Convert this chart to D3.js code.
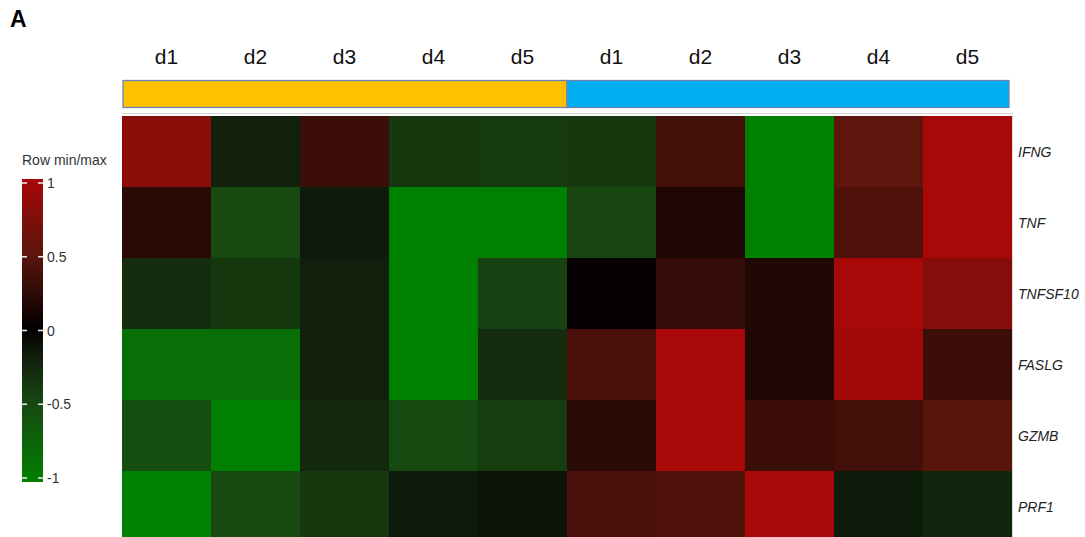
<!DOCTYPE html>
<html>
<head>
<meta charset="utf-8">
<script src="https://cdn.jsdelivr.net/npm/d3@7"></script>
<style>
  html, body { margin: 0; padding: 0; background: #fff; }
  svg { display: block; font-family: "Liberation Sans", Arial, Helvetica, sans-serif; }
</style>
</head>
<body>
<svg id="chart" width="1085" height="537"></svg>
<script>
// ---- data ----
const genes = ["IFNG", "TNF", "TNFSF10", "FASLG", "GZMB", "PRF1"];
const days = ["d1", "d2", "d3", "d4", "d5"];
const groups = ["groupA", "groupB"];
const groupColors = ["#FFC000", "#00B0F0"];
// row-normalised values (row min/max, -1..1), columns: groupA d1..d5, groupB d1..d5
const IFNG    = [ 0.81, -0.19,  0.33, -0.36, -0.38, -0.36,  0.37, -1.00,  0.53,  1.00];
const TNF     = [ 0.24, -0.50, -0.15, -1.00, -1.00, -0.47,  0.17, -1.00,  0.44,  1.00];
const TNFSF10 = [-0.28, -0.36, -0.19, -1.00, -0.43,  0.04,  0.29,  0.18,  1.00,  0.79];
const FASLG   = [-0.83, -0.83, -0.19, -1.00, -0.28,  0.41,  1.00,  0.18,  0.95,  0.33];
const GZMB    = [-0.54, -1.00, -0.25, -0.50, -0.40,  0.23,  1.00,  0.33,  0.37,  0.49];
const PRF1    = [-1.00, -0.50, -0.36, -0.15, -0.11,  0.41,  0.44,  1.00, -0.16, -0.23];
const legendTicks = [1, 0.5, 0, -0.5, -1];
const legendTitle = "Row min/max";
const panelLabel = "A";

const rows = [IFNG, TNF, TNFSF10, FASLG, GZMB, PRF1];
const columns = [];
groups.forEach((g, gi) => days.forEach(d => columns.push({group: g, gi, day: d})));
const cells = [];
rows.forEach((vals, ri) => vals.forEach((v, ci) => cells.push({gene: genes[ri], col: ci, value: v})));

// ---- scales ----
const color = d3.scaleLinear()
  .domain([-1, -0.5, -0.25, -0.1, 0, 0.5, 1])
  .range(["#008000", "#174a11", "#13290e", "#0b1309", "#000000", "#5a150c", "#a80808"])
  .clamp(true);

const svg = d3.select("#chart");
const x = d3.scaleBand().domain(d3.range(columns.length)).range([122, 1012]);
const y = d3.scaleBand().domain(genes).range([116, 116 + 71 * genes.length]);

// panel label
svg.append("text").attr("x", 10).attr("y", 27)
  .attr("font-size", 23).attr("font-weight", "bold").attr("fill", "#000").text(panelLabel);

// column labels
svg.append("g").selectAll("text").data(columns).join("text")
  .attr("x", (d, i) => x(i) + x.bandwidth() / 2)
  .attr("y", 64)
  .attr("text-anchor", "middle")
  .attr("font-size", 21)
  .attr("fill", "#111")
  .text(d => d.day);

// group bar
const groupBar = svg.append("g");
groups.forEach((g, gi) => {
  const first = gi * days.length, last = first + days.length - 1;
  groupBar.append("rect")
    .attr("x", x(first) + (gi === 0 ? 1 : 0))
    .attr("y", 80.5)
    .attr("width", x(last) + x.bandwidth() - x(first) - (gi === 0 ? 1 : 3))
    .attr("height", 27)
    .attr("fill", groupColors[gi])
    .attr("stroke", "#6b86b6")
    .attr("stroke-width", 1.3);
});

// separator line above heatmap
svg.append("line")
  .attr("x1", x.range()[0]).attr("x2", x.range()[1])
  .attr("y1", 113.5).attr("y2", 113.5)
  .attr("stroke", "#d4d4d4").attr("stroke-width", 1.2);

// heatmap cells
svg.append("g").selectAll("rect").data(cells).join("rect")
  .attr("x", d => x(d.col))
  .attr("y", d => y(d.gene))
  .attr("width", x.bandwidth() + 0.5)
  .attr("height", y.bandwidth() + 0.5)
  .attr("fill", d => color(d.value));

// right edge line
svg.append("line")
  .attr("x1", 1012.5).attr("x2", 1012.5)
  .attr("y1", 113).attr("y2", 537)
  .attr("stroke", "#d8d8d8").attr("stroke-width", 1);

// row labels
svg.append("g").selectAll("text").data(genes).join("text")
  .attr("x", 1018)
  .attr("y", d => y(d) + y.bandwidth() / 2 + 5)
  .attr("font-size", 14)
  .attr("font-style", "italic")
  .attr("fill", "#222")
  .text(d => d);

// legend
const ly = d3.scaleLinear().domain([-1, 1]).range([478, 183]);
const defs = svg.append("defs");
const grad = defs.append("linearGradient").attr("id", "lg")
  .attr("x1", 0).attr("y1", 1).attr("x2", 0).attr("y2", 0);
d3.range(-1, 1.0001, 0.05).forEach(v => {
  grad.append("stop").attr("offset", ((v + 1) / 2 * 100) + "%").attr("stop-color", color(v));
});
svg.append("text").attr("x", 22).attr("y", 165)
  .attr("font-size", 14).attr("fill", "#333").text(legendTitle);
svg.append("rect")
  .attr("x", 22).attr("y", ly(1) - 4)
  .attr("width", 21).attr("height", ly(-1) - ly(1) + 8)
  .attr("fill", "url(#lg)");
const lt = svg.append("g");
legendTicks.forEach(t => {
  lt.append("line").attr("x1", 22).attr("x2", 27).attr("y1", ly(t)).attr("y2", ly(t))
    .attr("stroke", "#e6e6e6").attr("stroke-width", 1.6);
  lt.append("line").attr("x1", 38).attr("x2", 43).attr("y1", ly(t)).attr("y2", ly(t))
    .attr("stroke", "#e6e6e6").attr("stroke-width", 1.6);
  lt.append("text").attr("x", 47).attr("y", ly(t) + 5)
    .attr("font-size", 14).attr("fill", "#333").text(String(t));
});
</script>
</body>
</html>
